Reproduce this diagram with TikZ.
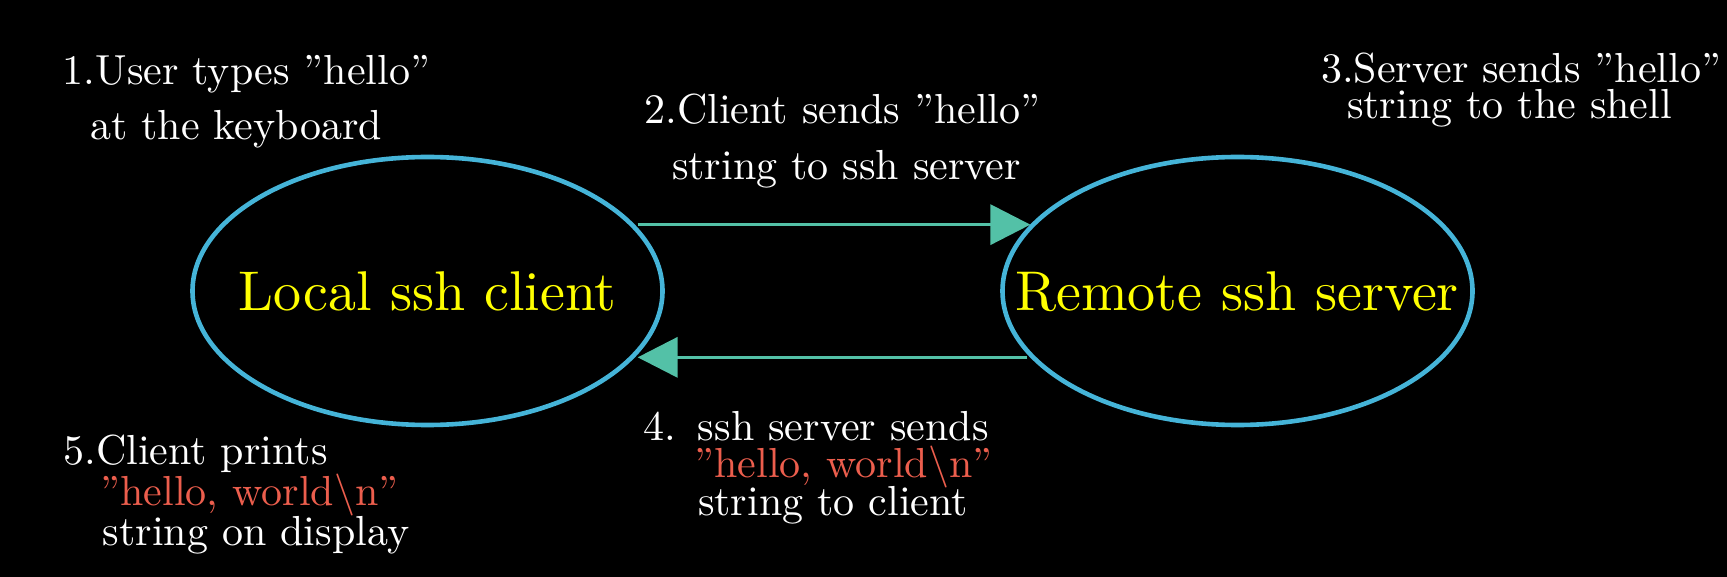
\documentclass[tikz,border=0pt]{standalone}
\usetikzlibrary{shapes.geometric,arrows.meta}
\font\annf="[lmroman10-regular]:mapping=tex-text" at 42pt
\font\labf="[lmroman10-regular]:mapping=tex-text" at 56pt
\definecolor{hostblue}{RGB}{69,180,216}
\definecolor{flowteal}{RGB}{83,193,167}
\definecolor{labyellow}{RGB}{255,255,0}
\definecolor{hltext}{RGB}{236,94,77}
\tikzset{
  ann/.style={text=white, font=\annf, inner sep=0pt, anchor=base},
  hl/.style={ann, text=hltext},
  lab/.style={text=labyellow, font=\labf, inner sep=0pt, anchor=base},
  host/.style={ellipse, draw=hostblue, line width=4.6pt, minimum width=470pt,
    minimum height=268pt, inner sep=0pt, outer sep=0pt},
  flow/.style={draw=flowteal, line width=3.6pt, shorten <=6pt, shorten >=6pt,
    -{Triangle[length=40pt,width=40pt]}}
}
\begin{document}
\begin{tikzpicture}[x=1pt,y=-1pt]
\fill[black] (0,0) rectangle (1727,577);
\useasboundingbox (0,0) rectangle (1727,577);
% hosts
\node[host] (lc) at (427.5,291) {};
\node[host] (rs) at (1237.5,291) {};
\node[lab] (lct) at (427.5,311) {Local ssh client};
\node[lab] (rst) at (1237,311) {Remote ssh server};
% connectors
\draw[flow] (lc.18.6) -- (lc.18.6 -| rs.161.4);
\draw[flow] (rs.198.6) -- (rs.198.6 -| lc.-18.6);
% annotations
\node[ann] (t1a) at (246.4,85) {1.User types ''hello''};
\node[ann] (t1b) at (236.2,140) {at the keyboard};
\node[ann] (t2a) at (842.5,124) {2.Client sends ''hello''};
\node[ann] (t2b) at (846.5,180) {string to ssh server};
\node[ann] (t3a) at (1521,83) {3.Server sends ''hello''};
\node[ann] (t3b) at (1509.5,119) {string to the shell};
\node[ann] (t4a) at (816,440) {4.\hspace{22pt}ssh server sends};
\node[hl]  (t4b) at (843.5,477) {''hello, world{\char92}n''};
\node[ann] (t4c) at (833,515) {string to client};
\node[ann] (t5a) at (195.5,464) {5.Client prints};
\node[hl]  (t5b) at (249.5,505) {''hello, world{\char92}n''};
\node[ann] (t5c) at (256,545) {string on display};
\end{tikzpicture}
\end{document}
